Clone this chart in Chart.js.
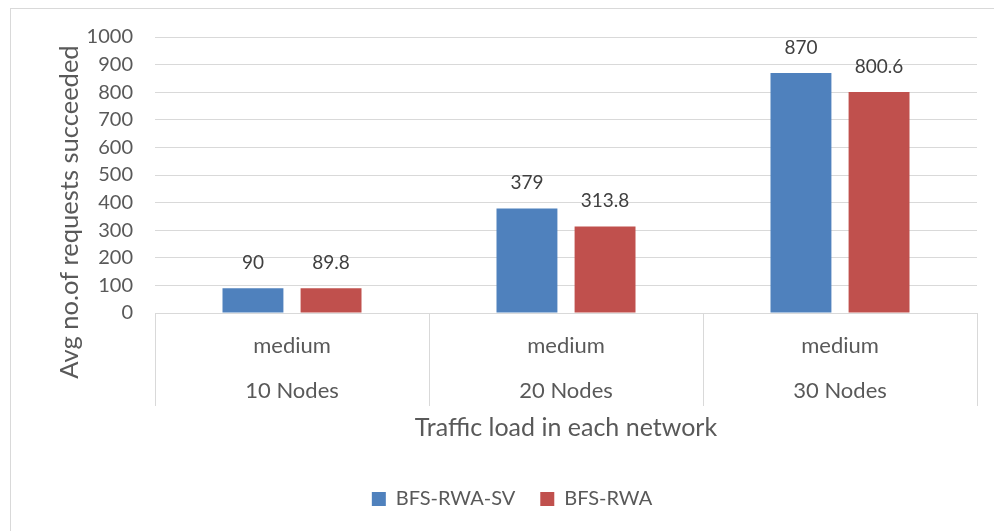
<!DOCTYPE html>
<html>
<head>
<meta charset="utf-8">
<script src="https://cdn.jsdelivr.net/npm/chart.js@4.4.1/dist/chart.umd.min.js"></script>
<style>
  html, body { margin: 0; padding: 0; background: #fff; overflow: hidden; }
  #frame {
    position: absolute; left: 10px; top: 8px;
    width: 1000px; height: 540px;
    border: 1px solid #d9d9d9; box-sizing: border-box;
  }
  #wrap { position: absolute; left: 0; top: 0; width: 983px; height: 530px; }
</style>
</head>
<body>
<div id="frame"><div id="wrap"><canvas id="grafico"></canvas></div></div>
<script>
// =====================
// DATA
// =====================
const carga      = ["medium", "medium", "medium"];
const nodos      = ["10 Nodes", "20 Nodes", "30 Nodes"];
const serieSV    = [90, 379, 870];
const serieRWA   = [89.8, 313.8, 800.6];
const nombres    = ["BFS-RWA-SV", "BFS-RWA"];
const colores    = ["#4F81BD", "#C0504D"];
const yTicks     = [0, 100, 200, 300, 400, 500, 600, 700, 800, 900, 1000];
const tituloY    = "Avg no.of requests succeeded";
const tituloX    = "Traffic load in each network";

const FONT = "Lato, 'Open Sans', sans-serif";
const GRIS = "#595959";

// valores sobre las barras + etiquetas de categoría en dos niveles + título Y
const extras = {
  id: "extras",
  afterDraw(chart) {
    const ctx = chart.ctx;
    const x = chart.scales.x;
    ctx.save();

    // valores
    ctx.font = `19px ${FONT}`;
    ctx.fillStyle = "#404040";
    ctx.textAlign = "center";
    ctx.textBaseline = "alphabetic";
    chart.data.datasets.forEach((ds, i) => {
      chart.getDatasetMeta(i).data.forEach((bar, j) => {
        ctx.fillText(String(ds.data[j]), bar.x, bar.y - 19);
      });
    });

    // categorías
    ctx.font = `22px ${FONT}`;
    ctx.fillStyle = GRIS;
    ctx.textBaseline = "middle";
    chart.data.labels.forEach((_, i) => {
      const px = x.getPixelForValue(i);
      ctx.fillText(carga[i], px, x.top + 33);
      ctx.fillText(nodos[i], px, x.top + 78);
    });

    // título eje Y
    ctx.font = `25.5px ${FONT}`;
    ctx.translate(59, 203);
    ctx.rotate(-Math.PI / 2);
    ctx.fillText(tituloY, 0, 0);
    ctx.restore();
  }
};

new Chart(document.getElementById("grafico"), {
  type: "bar",
  data: {
    labels: nodos,
    datasets: [
      { label: nombres[0], data: serieSV, backgroundColor: colores[0],
        categoryPercentage: 0.57, barPercentage: 0.78 },
      { label: nombres[1], data: serieRWA, backgroundColor: colores[1],
        categoryPercentage: 0.57, barPercentage: 0.78 }
    ]
  },
  options: {
    responsive: true,
    maintainAspectRatio: false,
    animation: false,
    layout: { padding: { top: 28, right: 17, left: 36, bottom: 20 } },
    plugins: {
      legend: {
        position: "bottom",
        labels: { font: { family: FONT, size: 20 }, color: GRIS,
                  boxWidth: 14, boxHeight: 14, padding: 25 }
      },
      tooltip: { enabled: false }
    },
    scales: {
      x: {
        offset: true,
        afterFit(axis) { axis.height = 151; },
        grid: { offset: true, drawOnChartArea: false, color: "#d9d9d9",
                tickLength: 93, lineWidth: 1 },
        border: { display: true, color: "#d9d9d9" },
        ticks: { display: false },
        title: { display: true, text: tituloX,
                 font: { family: FONT, size: 25 }, color: GRIS,
                 padding: { top: 0, bottom: 21 } }
      },
      y: {
        min: 0, max: 1000,
        afterBuildTicks(axis) { axis.ticks = yTicks.map(v => ({ value: v })); },
        afterFit(axis) { axis.width = 108; axis.paddingTop = 0; axis.paddingBottom = 0; },
        grid: { color: "#d9d9d9", drawTicks: false, lineWidth: 1 },
        border: { display: false },
        ticks: { font: { family: FONT, size: 20 }, color: GRIS, padding: 22,
                 autoSkip: false, callback: v => String(v) }
      }
    }
  },
  plugins: [extras]
});
</script>
</body>
</html>
